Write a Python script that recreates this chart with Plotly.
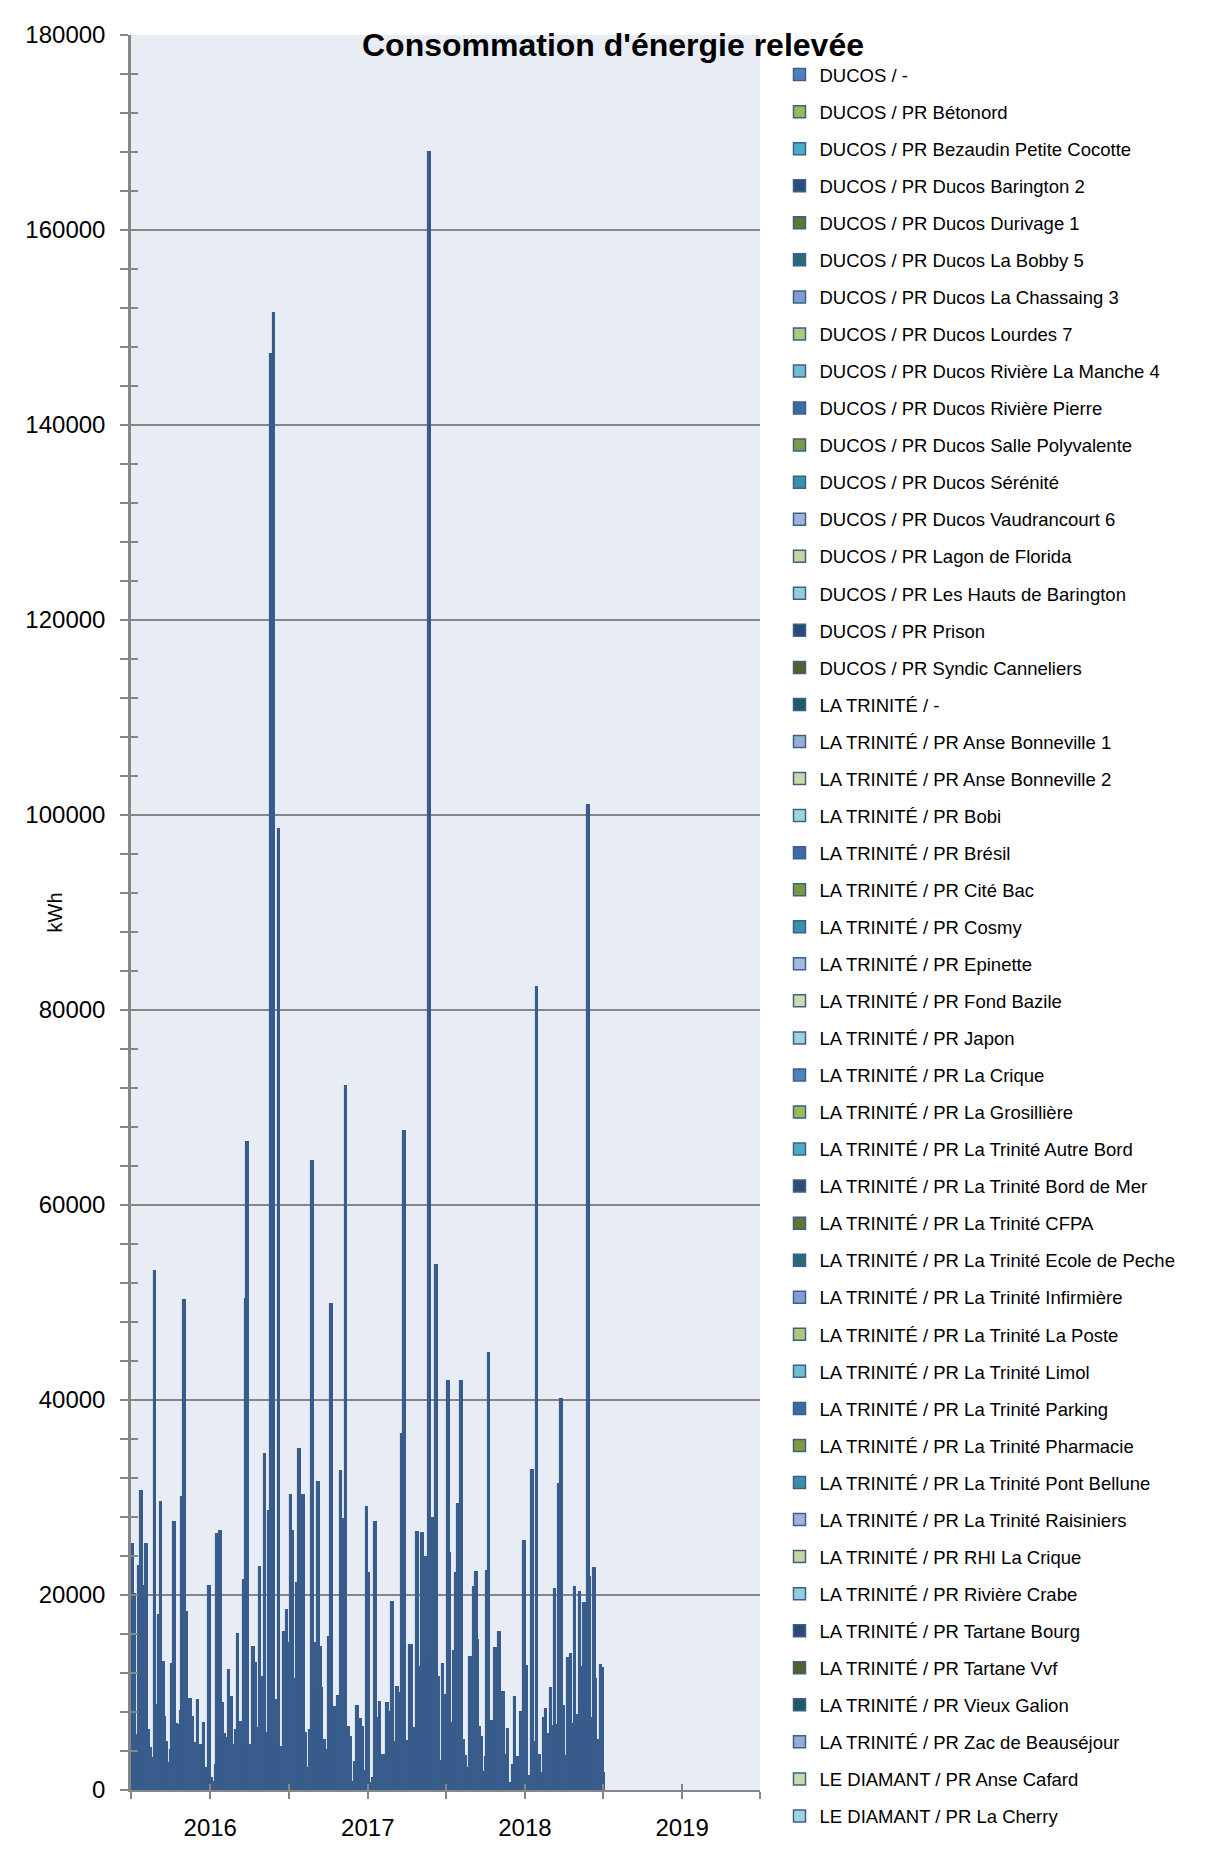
import plotly.graph_objects as go

# ---------------- data ----------------
dates = [
    "2015-07-06", "2015-07-10", "2015-07-14", "2015-07-20", "2015-07-26", "2015-07-31",
    "2015-08-06", "2015-08-10", "2015-08-15", "2015-08-20", "2015-08-26", "2015-08-30",
    "2015-09-04", "2015-09-09", "2015-09-14", "2015-09-18", "2015-09-23", "2015-09-28",
    "2015-10-02", "2015-10-05", "2015-10-10", "2015-10-15", "2015-10-20", "2015-10-25",
    "2015-10-29", "2015-11-02", "2015-11-07", "2015-11-11", "2015-11-16", "2015-11-21",
    "2015-11-25", "2015-11-29", "2015-12-04", "2015-12-11", "2015-12-18", "2015-12-24",
    "2015-12-31", "2016-01-04", "2016-01-08", "2016-01-14", "2016-01-18", "2016-01-25",
    "2016-01-29", "2016-02-03", "2016-02-08", "2016-02-14", "2016-02-20", "2016-02-25",
    "2016-03-01", "2016-03-06", "2016-03-14", "2016-03-19", "2016-03-24", "2016-03-28",
    "2016-04-04", "2016-04-10", "2016-04-16", "2016-04-20", "2016-04-26", "2016-04-29",
    "2016-05-07", "2016-05-13", "2016-05-17", "2016-05-23", "2016-05-28", "2016-06-03",
    "2016-06-09", "2016-06-15", "2016-06-21", "2016-06-27",
    "2016-07-02", "2016-07-07", "2016-07-11", "2016-07-16", "2016-07-21", "2016-07-26",
    "2016-07-31", "2016-08-05", "2016-08-10", "2016-08-14", "2016-08-21", "2016-08-25",
    "2016-08-31", "2016-09-04", "2016-09-09", "2016-09-13", "2016-09-17", "2016-09-24",
    "2016-09-29", "2016-10-04", "2016-10-09", "2016-10-15", "2016-10-19", "2016-10-25",
    "2016-10-31", "2016-11-05", "2016-11-11", "2016-11-17", "2016-11-23", "2016-11-28",
    "2016-12-02", "2016-12-08", "2016-12-15", "2016-12-21", "2016-12-25", "2016-12-30",
    "2017-01-04", "2017-01-08", "2017-01-14", "2017-01-19", "2017-01-23", "2017-01-29",
    "2017-02-03", "2017-02-07", "2017-02-11", "2017-02-16", "2017-02-22", "2017-02-28",
    "2017-03-05", "2017-03-11", "2017-03-17", "2017-03-22", "2017-03-27", "2017-04-03",
    "2017-04-09", "2017-04-14", "2017-04-21", "2017-04-26", "2017-05-02", "2017-05-08",
    "2017-05-12", "2017-05-17", "2017-05-22", "2017-05-25", "2017-05-31", "2017-06-05",
    "2017-06-10", "2017-06-15", "2017-06-20", "2017-06-25", "2017-06-29", "2017-07-07",
    "2017-07-11", "2017-07-16", "2017-07-21", "2017-07-26", "2017-07-30", "2017-08-06",
    "2017-08-11", "2017-08-16", "2017-08-21", "2017-08-27", "2017-09-01", "2017-09-06",
    "2017-09-10", "2017-09-14", "2017-09-18", "2017-09-23", "2017-09-29", "2017-10-03",
    "2017-10-06", "2017-10-10", "2017-10-16", "2017-10-20", "2017-10-25", "2017-10-30",
    "2017-11-03", "2017-11-07", "2017-11-12", "2017-11-17", "2017-11-23", "2017-11-30",
    "2017-12-05", "2017-12-09", "2017-12-15", "2017-12-19", "2017-12-24", "2017-12-31",
    "2018-01-04", "2018-01-09", "2018-01-14", "2018-01-19", "2018-01-24", "2018-01-29",
    "2018-02-05", "2018-02-09", "2018-02-14", "2018-02-19", "2018-02-24", "2018-03-03",
    "2018-03-06", "2018-03-12", "2018-03-17", "2018-03-22", "2018-03-27", "2018-04-02",
    "2018-04-06", "2018-04-12", "2018-04-18", "2018-04-23", "2018-04-27", "2018-05-03",
    "2018-05-09", "2018-05-14", "2018-05-19", "2018-05-24", "2018-05-28", "2018-06-01",
    "2018-06-06", "2018-06-11", "2018-06-15", "2018-06-19", "2018-06-24", "2018-06-27",
    "2018-07-01", "2018-07-03",
]

kwh = [
    25200, 20070, 5640, 22970, 30670, 20960,
    25200, 6150, 4270, 3250, 53190, 8720,
    17950, 29570, 13160, 7520, 4960, 2735,
    4100, 12890, 27450, 6740, 6670, 8100,
    30090, 50300, 18220, 8890, 9330, 7450,
    4790, 1880, 9230, 4620, 6840, 2220,
    20920, 1200, 850, 2560, 26220, 26570,
    8890, 5710, 5370, 12310, 9570, 4620,
    6150, 16000, 7010, 21540, 50400, 66500,
    4620, 14630, 13000, 6330, 22910, 11620,
    34460, 5810, 28620, 147300, 151500, 9230,
    98600, 4380, 16240, 18460,
    15040, 30260, 26600, 11390, 21200, 34980,
    24860, 30260, 5810, 2220, 6150, 64500,
    8200, 15040, 31630, 14700, 10430, 5130,
    4100, 15730, 49800, 8550, 8200, 9680,
    32760, 27760, 72170, 6430, 5400, 850,
    2910, 8620, 7250, 6430, 1980, 29060,
    22290, 680, 1200, 27520, 7350, 9060,
    3490, 3590, 2460, 8890, 8030, 19320,
    4960, 10600, 9980, 36510, 67570, 5060,
    14870, 14870, 6330, 26500, 12580, 26390,
    13500, 23860, 5980, 168000, 27860, 13850,
    53870, 11620, 2970, 12890, 9740, 41960,
    24340, 6910, 14290, 22290, 29300, 41960,
    5130, 3490, 2220, 13610, 8280, 20860,
    22360, 15390, 6500, 5470, 1880, 3420,
    22500, 44850, 7110, 5980, 14600, 6500,
    16210, 7860, 10020, 3590, 6260, 750,
    2560, 9570, 3420, 3080, 7970, 25540,
    12720, 1440, 620, 32820, 4960, 82400,
    3590, 1780, 7350, 8280, 5740, 10430,
    6560, 20620, 6670, 31390, 40070, 8620,
    3490, 13570, 13950, 6770, 20860, 7690,
    20340, 12580, 19220, 9160, 101000, 21880,
    7420, 22740, 11390, 5130, 2390, 12820,
    12480, 1710,
]

series_names = [
    "DUCOS / -",
    "DUCOS / PR Bétonord",
    "DUCOS / PR Bezaudin Petite Cocotte",
    "DUCOS / PR Ducos Barington 2",
    "DUCOS / PR Ducos Durivage 1",
    "DUCOS / PR Ducos La Bobby 5",
    "DUCOS / PR Ducos La Chassaing 3",
    "DUCOS / PR Ducos Lourdes 7",
    "DUCOS / PR Ducos Rivière La Manche 4",
    "DUCOS / PR Ducos Rivière Pierre",
    "DUCOS / PR Ducos Salle Polyvalente",
    "DUCOS / PR Ducos Sérénité",
    "DUCOS / PR Ducos Vaudrancourt 6",
    "DUCOS / PR Lagon de Florida",
    "DUCOS / PR Les Hauts de Barington",
    "DUCOS / PR Prison",
    "DUCOS / PR Syndic Canneliers",
    "LA TRINITÉ / -",
    "LA TRINITÉ / PR Anse Bonneville 1",
    "LA TRINITÉ / PR Anse Bonneville 2",
    "LA TRINITÉ / PR Bobi",
    "LA TRINITÉ / PR Brésil",
    "LA TRINITÉ / PR Cité Bac",
    "LA TRINITÉ / PR Cosmy",
    "LA TRINITÉ / PR Epinette",
    "LA TRINITÉ / PR Fond Bazile",
    "LA TRINITÉ / PR Japon",
    "LA TRINITÉ / PR La Crique",
    "LA TRINITÉ / PR La Grosillière",
    "LA TRINITÉ / PR La Trinité Autre Bord",
    "LA TRINITÉ / PR La Trinité Bord de Mer",
    "LA TRINITÉ / PR La Trinité CFPA",
    "LA TRINITÉ / PR La Trinité Ecole de Peche",
    "LA TRINITÉ / PR La Trinité Infirmière",
    "LA TRINITÉ / PR La Trinité La Poste",
    "LA TRINITÉ / PR La Trinité Limol",
    "LA TRINITÉ / PR La Trinité Parking",
    "LA TRINITÉ / PR La Trinité Pharmacie",
    "LA TRINITÉ / PR La Trinité Pont Bellune",
    "LA TRINITÉ / PR La Trinité Raisiniers",
    "LA TRINITÉ / PR RHI La Crique",
    "LA TRINITÉ / PR Rivière Crabe",
    "LA TRINITÉ / PR Tartane Bourg",
    "LA TRINITÉ / PR Tartane Vvf",
    "LA TRINITÉ / PR Vieux Galion",
    "LA TRINITÉ / PR Zac de Beauséjour",
    "LE DIAMANT / PR Anse Cafard",
    "LE DIAMANT / PR La Cherry",
]

palette = [
    "#4F81BD", "#9BBB59", "#4BACC6",
    "#2C4D75", "#5F7530", "#276A7C",
    "#7F9FD0", "#AFC97A", "#6FBDD1",
    "#3C6AA6", "#7D9B42", "#3A90A8",
    "#9DB4DA", "#C3D69B", "#93CDDD",
    "#2A4A75", "#4F6228", "#215968",
    "#95AED6", "#C9DBA5", "#A0D3E0",
    "#3D6BA8", "#7A9A3C", "#3690A8",
    "#A5B9DE", "#CCDDAA", "#9FD2DF",
]

BAR_COLOR = "#385D8C"
GRID = "#868686"
FONT = "Liberation Sans, Arial, sans-serif"
W, H = 1216, 1850
PAGE_OFF = 8  # default body margin of the html page

fig = go.Figure()

# main bars (total reading per date)
fig.add_trace(go.Bar(
    x=dates, y=kwh,
    width=6 * 86400000,
    marker=dict(color=BAR_COLOR, line=dict(color=BAR_COLOR, width=1.1)),
    showlegend=False,
    name="Consommation",
    hovertemplate="%{x|%d/%m/%Y}<br>%{y} kWh<extra></extra>",
))

# legend entries for each series
for i, name in enumerate(series_names):
    fig.add_trace(go.Bar(
        x=[None], y=[None],
        name=name,
        legendgroup=f"g{i}",
        marker=dict(color=palette[i % len(palette)],
                    line=dict(color="#3F5F8A", width=1.5)),
    ))

# helper axes to draw the inner half of crossing ticks
fig.add_trace(go.Scatter(x=[None], y=[None], xaxis="x2", yaxis="y2",
                         showlegend=False, hoverinfo="skip"))

fig.update_layout(
    width=W, height=H,
    margin=dict(l=131 - PAGE_OFF, r=456 + PAGE_OFF, t=35 - PAGE_OFF, b=60 + PAGE_OFF),
    paper_bgcolor="white",
    plot_bgcolor="#E8ECF4",
    font=dict(family=FONT, color="#000000"),
    bargap=0,
    barmode="overlay",
    title=dict(
        text="<b>Consommation d'énergie relevée</b>",
        font=dict(family=FONT, size=32, color="#000000"),
        x=(613 - PAGE_OFF) / W, xref="container", xanchor="center",
        y=1 - (45 - PAGE_OFF) / H, yref="container", yanchor="middle",
    ),
    xaxis=dict(
        type="date",
        range=["2015-07-01", "2019-07-01"],
        tick0="2016-01-01", dtick="M12", tickformat="%Y",
        ticks="outside", ticklen=7, tickwidth=2, tickcolor=GRID,
        minor=dict(tick0="2015-07-01", dtick="M6", ticks="outside",
                   ticklen=7, tickwidth=2, tickcolor=GRID, showgrid=False),
        showline=True, linecolor=GRID, linewidth=2,
        showgrid=False, zeroline=False,
        tickfont=dict(family=FONT, size=24, color="#000000"),
        ticklabelstandoff=8,
        fixedrange=True,
    ),
    yaxis=dict(
        range=[0, 180000], dtick=20000, tick0=0, tickformat="d",
        ticks="outside", ticklen=8, tickwidth=2, tickcolor=GRID,
        minor=dict(dtick=4000, ticks="outside", ticklen=8, tickwidth=2,
                   tickcolor=GRID, showgrid=False),
        showline=True, linecolor=GRID, linewidth=2.5,
        showgrid=True, gridcolor=GRID, gridwidth=1.5,
        zeroline=False,
        tickfont=dict(family=FONT, size=24, color="#000000"),
        ticklabelstandoff=10,
        fixedrange=True,
    ),
    xaxis2=dict(
        type="date", overlaying="x", anchor="y",
        range=["2015-07-01", "2019-07-01"],
        tick0="2015-07-01", dtick="M6",
        ticks="inside", ticklen=6, tickwidth=2, tickcolor=GRID,
        showticklabels=False, showgrid=False, showline=False, zeroline=False,
        side="bottom", fixedrange=True,
    ),
    yaxis2=dict(
        overlaying="y", anchor="x", side="left",
        range=[0, 180000], tick0=0, dtick=4000,
        ticks="inside", ticklen=7, tickwidth=2, tickcolor=GRID,
        showticklabels=False, showgrid=False, showline=False, zeroline=False,
        fixedrange=True,
    ),
    legend=dict(
        x=1.031, xanchor="left",
        y=0.988, yanchor="top",
        traceorder="grouped",
        tracegroupgap=10,
        itemwidth=30,
        maxheight=1850,
        font=dict(family=FONT, size=18.5, color="#000000"),
        bgcolor="rgba(0,0,0,0)",
    ),
    annotations=[
        dict(text="kWh", textangle=-90, x=(41 - 131) / 629, y=0.5,
             xref="paper", yref="paper", showarrow=False,
             font=dict(family=FONT, size=20, color="#000000")),
    ],
    shapes=[
        dict(type="line", xref="paper", yref="paper",
             x0=(7 - 131) / 629, x1=(7 - 131) / 629,
             y0=-0.1, y1=1 + (35 - 6) / 1755,
             line=dict(color="#A6A6A6", width=1)),
        dict(type="line", xref="paper", yref="paper",
             x0=(7 - 131) / 629, x1=2.0,
             y0=1 + (35 - 6) / 1755, y1=1 + (35 - 6) / 1755,
             line=dict(color="#A6A6A6", width=1)),
    ],
)

fig.write_html("out.html")
